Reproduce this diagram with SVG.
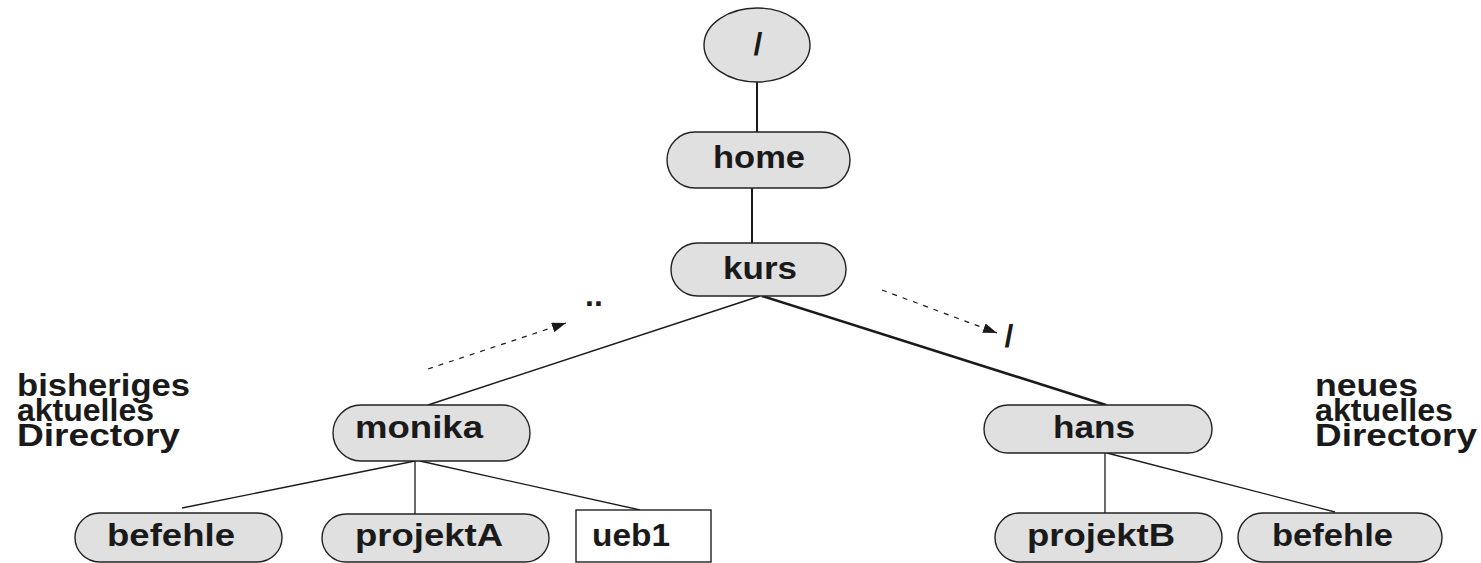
<svg xmlns="http://www.w3.org/2000/svg" width="1481" height="563" viewBox="0 0 1481 563">
<style>
.n{fill:#e0e0e0;stroke:#222;stroke-width:1.4}
.b{fill:#fff;stroke:#222;stroke-width:1.4}
.t{font-family:"Liberation Sans",Arial,sans-serif;font-weight:bold;font-size:32px;fill:#1a1a1a}
.s{font-family:"Liberation Sans",Arial,sans-serif;font-weight:bold;font-size:32px;fill:#1a1a1a}
.c{stroke:#1a1a1a;fill:none}
.d{stroke:#1a1a1a;fill:none;stroke-width:1.2;stroke-dasharray:5 6}
</style>
<defs>
<marker id="ah" markerWidth="14" markerHeight="10" refX="14" refY="5" orient="auto" markerUnits="userSpaceOnUse">
<path d="M0,0 L14,5 L0,10 Z" fill="#1a1a1a"/>
</marker>
</defs>
<rect width="1481" height="563" fill="#fff"/>
<g id="connectors">
<line class="c" x1="757" y1="82" x2="757" y2="132" stroke-width="2"/>
<line class="c" x1="752" y1="188" x2="752" y2="243" stroke-width="2"/>
<line class="c" x1="760" y1="296" x2="428" y2="405" stroke-width="1.5"/>
<line class="c" x1="762" y1="296" x2="1106" y2="405" stroke-width="2.6"/>
<line class="c" x1="415" y1="461" x2="182" y2="508" stroke-width="1.3"/>
<line class="c" x1="415" y1="461" x2="415" y2="515" stroke-width="1.3" stroke="#555"/>
<line class="c" x1="420" y1="461" x2="640" y2="510" stroke-width="1.3"/>
<line class="c" x1="1105" y1="453" x2="1105" y2="513" stroke-width="1.3" stroke="#555"/>
<line class="c" x1="1107" y1="453" x2="1335" y2="512" stroke-width="1.3"/>
<line class="d" x1="428" y1="369" x2="566" y2="323" marker-end="url(#ah)"/>
<line class="d" x1="882" y1="290" x2="997" y2="333" marker-end="url(#ah)"/>
</g>
<g id="root">
<ellipse class="n" cx="757" cy="45" rx="53" ry="37"/>
<text class="t" x="758" y="55" font-size="38" text-anchor="middle">/</text>
</g>
<g id="home">
<rect class="n" x="667" y="132" width="183" height="56" rx="28"/>
<text class="t" x="713" y="168" textLength="92" lengthAdjust="spacingAndGlyphs">home</text>
</g>
<g id="kurs">
<rect class="n" x="671" y="243" width="175" height="53" rx="26.5"/>
<text class="t" x="723" y="279" textLength="74" lengthAdjust="spacingAndGlyphs">kurs</text>
</g>
<g id="monika">
<rect class="n" x="333" y="405" width="197" height="56" rx="28"/>
<text class="t" x="355" y="438" textLength="128" lengthAdjust="spacingAndGlyphs">monika</text>
</g>
<g id="hans">
<rect class="n" x="984" y="405" width="228" height="48" rx="24"/>
<text class="t" x="1053" y="438" textLength="82" lengthAdjust="spacingAndGlyphs">hans</text>
</g>
<g id="befehle1">
<rect class="n" x="75" y="513" width="207" height="49" rx="24.5"/>
<text class="t" x="107" y="546" textLength="128" lengthAdjust="spacingAndGlyphs">befehle</text>
</g>
<g id="projektA">
<rect class="n" x="322" y="514" width="227" height="48" rx="24"/>
<text class="t" x="355" y="546" textLength="148" lengthAdjust="spacingAndGlyphs">projektA</text>
</g>
<g id="ueb1">
<rect class="b" x="576" y="510" width="135" height="52"/>
<text class="t" x="592" y="546" textLength="78" lengthAdjust="spacingAndGlyphs">ueb1</text>
</g>
<g id="projektB">
<rect class="n" x="995" y="513" width="227" height="49" rx="24.5"/>
<text class="t" x="1027" y="546" textLength="148" lengthAdjust="spacingAndGlyphs">projektB</text>
</g>
<g id="befehle2">
<rect class="n" x="1238" y="513" width="204" height="49" rx="24.5"/>
<text class="t" x="1272" y="546" textLength="121" lengthAdjust="spacingAndGlyphs">befehle</text>
</g>
<g id="labels">
<text class="t" x="585" y="306">..</text>
<text class="t" x="1009" y="347" font-size="38" text-anchor="middle">/</text>
<text class="s" x="17" y="396" textLength="173" lengthAdjust="spacingAndGlyphs">bisheriges</text>
<text class="s" x="17" y="421" textLength="137" lengthAdjust="spacingAndGlyphs">aktuelles</text>
<text class="s" x="17" y="446" textLength="163" lengthAdjust="spacingAndGlyphs">Directory</text>
<text class="s" x="1315" y="396" textLength="103" lengthAdjust="spacingAndGlyphs">neues</text>
<text class="s" x="1315" y="421" textLength="138" lengthAdjust="spacingAndGlyphs">aktuelles</text>
<text class="s" x="1315" y="446" textLength="162" lengthAdjust="spacingAndGlyphs">Directory</text>
</g>
</svg>
